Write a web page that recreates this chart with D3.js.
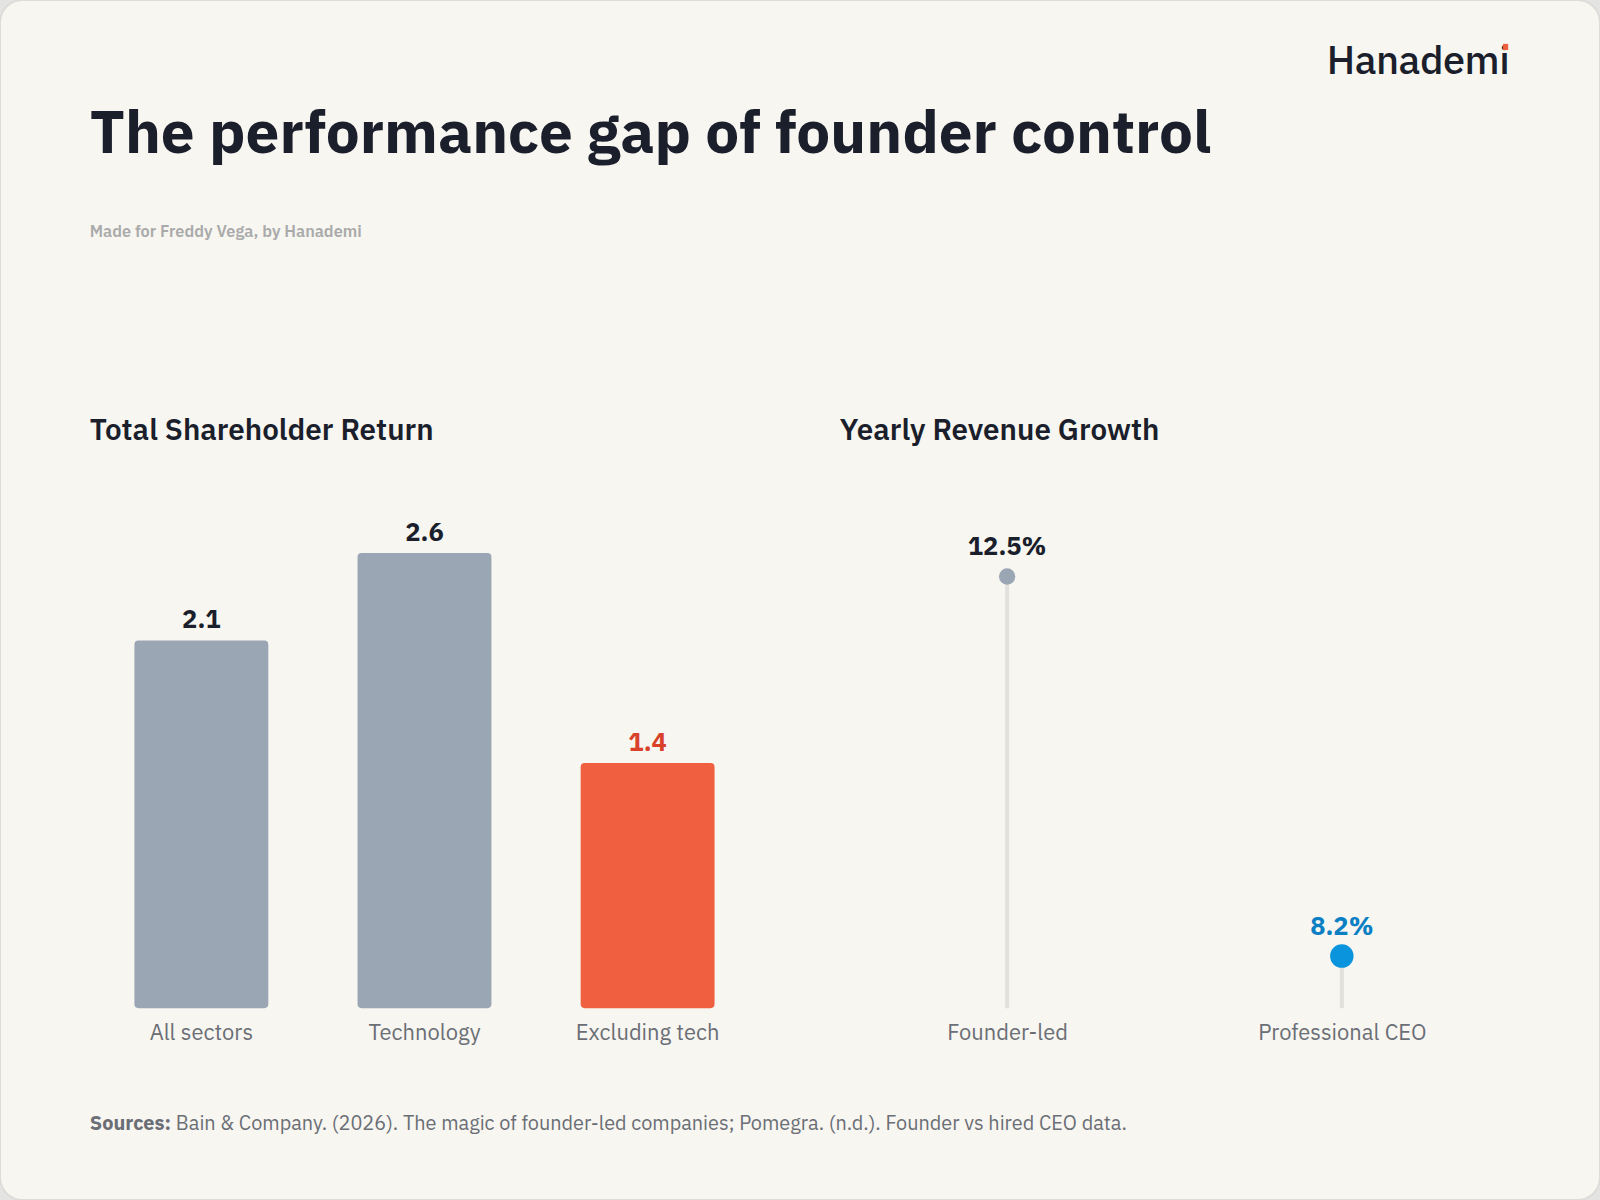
<!DOCTYPE html>
<html><head><meta charset="utf-8">
<script src="https://cdn.jsdelivr.net/npm/d3@7"></script>
<style>body{margin:0;background:#e4e4e2}svg{display:block}</style>
</head><body><svg id="c" width="1600" height="1200" viewBox="0 0 1568 1176"></svg>
<script>
const tsrCategories = ["All sectors","Technology","Excluding tech"];
const tsrValues = [2.1, 2.6, 1.4];
const tsrLabels = ["2.1","2.6","1.4"];
const growthCategories = ["Founder-led","Professional CEO"];
const growthValues = [12.5, 8.2];
const growthLabels = ["12.5%","8.2%"];

const F = "'IBM Plex Sans','Noto Sans',Inter,sans-serif";
const svg = d3.select("#c");
svg.append("rect").attr("x",0).attr("y",0).attr("width",1568).attr("height",1176).attr("rx",22).attr("fill","#f7f6f1").attr("stroke","#dcdcd8").attr("stroke-width",2);

svg.append("text").attr("x",1479).attr("y",73).attr("text-anchor","end").attr("font-family",F).attr("font-size",39).attr("font-weight",500).attr("fill","#1b1e2b").attr("letter-spacing",-0.5).text("Hanademi");
svg.append("rect").attr("x",1473).attr("y",43).attr("width",5).attr("height",6).attr("fill","#f05f3f");

svg.append("text").attr("x",88).attr("y",150).attr("font-family",F).attr("font-size",59).attr("font-weight",700).attr("fill","#1b1e2b").attr("textLength",1099).attr("lengthAdjust","spacingAndGlyphs").text("The performance gap of founder control");
svg.append("text").attr("x",88).attr("y",232).attr("font-family",F).attr("font-size",16).attr("font-weight",600).attr("fill","#aaaaaa").text("Made for Freddy Vega, by Hanademi");

svg.append("text").attr("x",88).attr("y",431).attr("font-family",F).attr("font-size",29).attr("font-weight",600).attr("fill","#1b1e2b").text("Total Shareholder Return");
svg.append("text").attr("x",823).attr("y",431).attr("font-family",F).attr("font-size",29).attr("font-weight",600).attr("fill","#1b1e2b").text("Yearly Revenue Growth");

// Bars
const x = d3.scaleBand().domain(tsrCategories).range([88,744]).paddingInner(0.4).paddingOuter(0.2);
const y = d3.scaleLinear().domain([0,2.6]).range([988,542]);
tsrCategories.forEach((c,i)=>{
  const v=tsrValues[i], x0=x(c), w=x.bandwidth(), y0=y(v), h=y(0)-y0, r=4;
  svg.append("path").attr("fill",i===2?"#f05f3f":"#9ba6b4")
    .attr("d",`M${x0},${y0+r}a${r},${r} 0 0 1 ${r},${-r}h${w-2*r}a${r},${r} 0 0 1 ${r},${r}v${h-2*r}a${r},${r} 0 0 1 ${-r},${r}h${-(w-2*r)}a${r},${r} 0 0 1 ${-r},${-r}z`);
  svg.append("text").attr("x",x0+w/2).attr("y",y0-12).attr("text-anchor","middle").attr("font-family",F).attr("font-size",25).attr("font-weight",700).attr("fill",i===2?"#d9412b":"#1b1e2b").text(tsrLabels[i]);
});
const xa = svg.append("g").attr("transform","translate(0,988)").call(d3.axisBottom(x).tickSize(0).tickPadding(16));
xa.select(".domain").remove();
xa.selectAll("text").attr("font-family",F).attr("font-size",21.5).attr("fill","#6b6e75");

// Lollipops
const px = d3.scalePoint().domain(growthCategories).range([823,1479]).padding(0.5);
const py = d3.scaleLinear().domain([7.61,12.5]).range([988,565]);
growthCategories.forEach((c,i)=>{
  const cx=px(c), cy=py(growthValues[i]);
  svg.append("line").attr("x1",cx).attr("x2",cx).attr("y1",cy).attr("y2",py.range()[0]).attr("stroke","#e3e1dd").attr("stroke-width",4);
  svg.append("circle").attr("cx",cx).attr("cy",cy).attr("r",i===0?8:11.5).attr("fill",i===0?"#9ba6b4":"#0b94de");
  svg.append("text").attr("x",cx).attr("y",cy-21).attr("text-anchor","middle").attr("font-family",F).attr("font-size",25).attr("font-weight",700).attr("fill",i===0?"#1b1e2b":"#0b7fc4").text(growthLabels[i]);
});
const pa = svg.append("g").attr("transform","translate(0,988)").call(d3.axisBottom(px).tickSize(0).tickPadding(16));
pa.select(".domain").remove();
pa.selectAll("text").attr("font-family",F).attr("font-size",21.5).attr("fill","#6b6e75");

const s = svg.append("text").attr("x",88).attr("y",1107).attr("font-family",F).attr("font-size",19.5).attr("fill","#6b6e75");
s.append("tspan").attr("font-weight",700).text("Sources:");
s.append("tspan").text(" Bain & Company. (2026). The magic of founder-led companies; Pomegra. (n.d.). Founder vs hired CEO data.");
</script></body></html>
